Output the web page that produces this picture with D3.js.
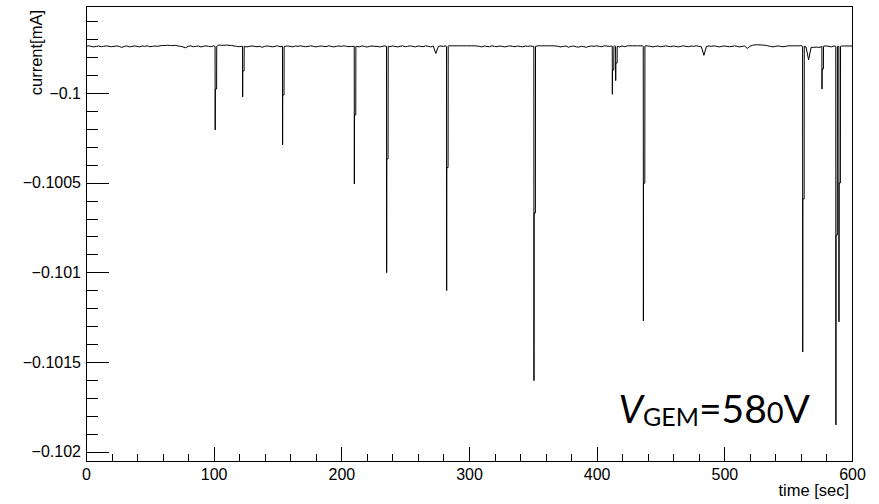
<!DOCTYPE html>
<html><head><meta charset="utf-8">
<script src="https://cdn.jsdelivr.net/npm/d3@7"></script>
<style>body{margin:0;background:#fff}svg{display:block}</style>
</head><body><svg id="c" width="879" height="504"></svg>
<script>
// ---------------- data ----------------
const baseLevel = -0.09974;           // mA, quiet current level
const noiseStep = 2;                   // seconds between baseline samples
// baseline deviations, units of 1e-6 mA, t = 0,2,...,600
const noise = [
 0,3,0,-3,0,2,-2,0,3,0,
 -2,0,2,0,-6,0,2,-3,0,2,
 0,-3,2,0,3,-2,0,2,0,3,
 5,5,6,5,4,6,2,0,-3,-8,
 0,3,-2,0,2,-3,0,3,0,-2,
 3,6,7,6,6,7,6,5,2,0,
 -2,0,2,-3,0,2,0,-2,0,-5,
 0,2,0,-3,0,3,-2,2,0,2,
 0,-3,2,0,3,0,-2,0,3,0,
 -3,0,2,0,-2,3,0,-3,0,2,
 0,3,0,-2,0,2,0,-3,2,0,
 -4,0,2,0,0,-3,0,2,0,-2,
 2,0,-3,0,3,-2,0,3,0,-3,
 2,0,-2,3,0,-3,2,-40,0,2,
 0,3,3,3,3,3,3,3,3,3,
 3,3,3,2,0,-3,2,0,-2,3,
 0,-2,2,0,-3,0,3,0,-2,2,
 0,-3,2,0,2,0,3,3,3,3,
 3,3,3,3,2,0,-3,0,2,-5,
 0,2,-3,-4,0,-2,-5,0,2,0,
 3,0,-2,3,2,0,2,3,0,-3,
 2,-2,3,3,3,3,3,3,3,3,
 2,0,-3,0,2,-2,0,3,0,-2,
 2,0,-3,0,3,0,-2,2,0,3,
 0,-2,-50,0,2,0,3,0,-3,0,
 2,0,-2,0,3,0,-3,0,2,-12,
 0,6,8,9,8,7,6,3,0,-3,
 0,2,0,-2,0,3,3,3,3,3,
 4,3,-4,-75,-5,-6,-4,-6,-3,2,
 2,0,-3,2,2,3,2,2,2,2,
 2
];
// discharge spikes
const spikeTime     = [101.2, 122.7, 154.0, 210.2, 235.5, 282.5, 350.9, 412.3, 414.9, 436.6, 561.4, 576.5, 587.4, 589.8];
const spikeTip      = [-0.100206,-0.100022,-0.100290,-0.100507,-0.101002,-0.101102,-0.101604,-0.100007,-0.099931,-0.101271,-0.101444,-0.099978,-0.101851,-0.101276];
const spikeShoulder = [-0.099978,-0.099877,-0.100011,-0.100123,-0.100368,-0.100416,-0.100669,-0.099872,-0.099833,-0.100503,-0.100591,-0.099866,-0.100792,-0.100502];

const xMajorTicks = [0,100,200,300,400,500,600];
const xTickLabels = ["0","100","200","300","400","500","600"];
const yMajorTicks = [-0.1,-0.1005,-0.101,-0.1015,-0.102];
const yTickLabels = ["\u22120.1","\u22120.1005","\u22120.101","\u22120.1015","\u22120.102"];

// ---------------- layout ----------------
const svg = d3.select("#c");
const L = 86, R = 852, T = 6, B = 461;
const x = d3.scaleLinear().domain([0,600]).range([L,R]);
const y = d3.scaleLinear().domain([-0.099515,-0.102052]).range([T,B]);

// build series
const pts = [];
noise.forEach((n,i)=>{
  const t = i*noiseStep;
  const inSpike = spikeTime.some(s => t >= s-0.2 && t <= s+1.3);
  if(!inSpike) pts.push([t, baseLevel + n*1e-6]);
});
spikeTime.forEach((s,i)=>{
  pts.push([s-0.1, baseLevel]);
  pts.push([s, spikeTip[i]]);
  pts.push([s+0.1, spikeShoulder[i]]);
  pts.push([s+1.1, spikeShoulder[i]]);
  pts.push([s+1.2, baseLevel]);
});
pts.sort((a,b)=>a[0]-b[0]);

const font = "'Liberation Sans', Arial, Helvetica, sans-serif";

// data line
svg.append("path")
  .attr("d", d3.line().x(d=>x(d[0])).y(d=>y(d[1]))(pts))
  .attr("fill","none").attr("stroke","#000").attr("stroke-width",1);

// axes
const yMinor = d3.range(-0.0996, -0.10200001, -0.0001).filter(v => !yMajorTicks.some(m=>Math.abs(m-v)<1e-9));
const xMinor = d3.range(0, 601, 20).filter(v => v%100 !== 0);

svg.append("g").attr("transform",`translate(${L},0)`)
  .call(d3.axisLeft(y).tickValues(yMajorTicks).tickSizeInner(-23).tickSizeOuter(0).tickPadding(5)
        .tickFormat((d,i)=>yTickLabels[i]));
svg.append("g").attr("transform",`translate(${L},0)`)
  .call(d3.axisLeft(y).tickValues(yMinor).tickSizeInner(-12).tickSizeOuter(0).tickFormat(""));
svg.append("g").attr("transform",`translate(0,${B})`)
  .call(d3.axisBottom(x).tickValues(xMajorTicks).tickSizeInner(-13.7).tickSizeOuter(0).tickPadding(7.5)
        .tickFormat((d,i)=>xTickLabels[i]));
svg.append("g").attr("transform",`translate(0,${B})`)
  .call(d3.axisBottom(x).tickValues(xMinor).tickSizeInner(-6.8).tickSizeOuter(0).tickFormat(""));
svg.selectAll(".domain").remove();
svg.selectAll(".tick line").attr("stroke","#000").attr("shape-rendering","crispEdges");
svg.selectAll(".tick text").attr("fill","#000").style("font-family",font).style("font-size","16px");

// frame
svg.append("rect").attr("x",L).attr("y",T).attr("width",R-L).attr("height",B-T)
  .attr("fill","none").attr("stroke","#000").attr("stroke-width",1).attr("shape-rendering","crispEdges");

// titles
svg.append("text").attr("x",849).attr("y",496).attr("text-anchor","end")
  .style("font-family",font).style("font-size","16.5px").text("time [sec]");
svg.append("text").attr("transform","translate(41.5,10) rotate(-90)").attr("text-anchor","end")
  .style("font-family",font).style("font-size","16.5px").text("current[mA]");

// annotation
const ann = svg.append("text").attr("x",810).attr("y",423).attr("text-anchor","end")
  .style("font-family","Lato, 'Open Sans', sans-serif").style("font-size","39px").attr("fill","#000");
ann.append("tspan").style("font-style","italic").text("V");
ann.append("tspan").attr("dy",3).style("font-size","25px").text("GEM");
ann.append("tspan").attr("dy",-3).text("=58");
ann.append("tspan").style("font-size","29px").text("0");
ann.append("tspan").text("V");
</script>
</body></html>
